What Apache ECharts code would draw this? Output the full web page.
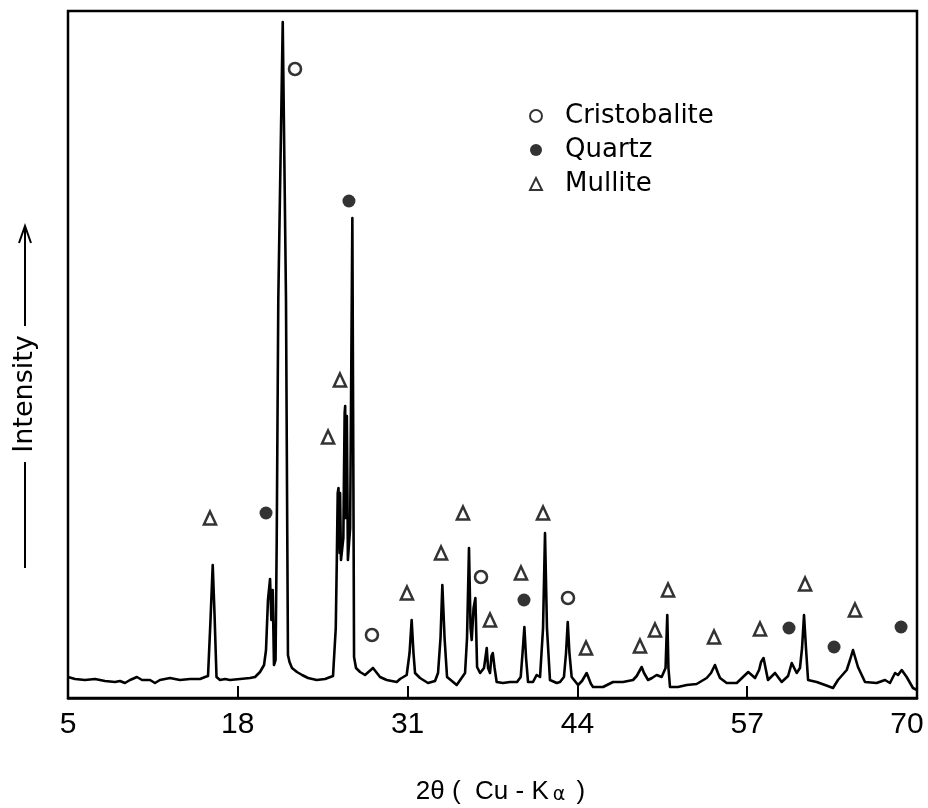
<!DOCTYPE html>
<html>
<head>
<meta charset="utf-8">
<script src="https://cdn.jsdelivr.net/npm/echarts@6/dist/echarts.min.js"></script>
<style>
html,body{margin:0;padding:0;background:#fff;overflow:hidden;}
#chart{width:928px;height:808px;}
</style>
</head>
<body>
<div id="chart"></div>
<script>
// 2θ (degrees) of the traced diffraction profile
const twoTheta = [
  5.00, 5.54, 6.30, 7.07, 7.83, 8.60, 8.98, 9.36, 9.75, 10.28, 10.67, 11.28, 11.66, 12.04, 12.81, 13.57, 14.34, 15.11, 15.49, 15.72,
  15.91, 16.08, 16.22, 16.37, 16.64, 17.02, 17.40, 18.17, 18.93, 19.32, 19.70, 20.01, 20.16, 20.31, 20.47, 20.57, 20.67, 20.77,
  20.89, 20.98, 21.10, 21.44, 21.69, 21.79, 21.84, 21.96, 22.15, 22.53, 22.92, 23.38, 24.04, 24.68, 25.29,
  25.50, 25.58, 25.65, 25.71, 25.74, 25.77, 25.80, 25.83, 25.90, 26.08, 26.18, 26.22, 26.26, 26.29, 26.32, 26.35, 26.43, 26.60, 26.77, 26.84, 26.90, 27.05, 27.36,
  27.74, 28.35, 28.89, 29.40, 30.17, 30.42, 30.93, 31.15, 31.31, 31.45, 31.57, 31.95, 32.56, 33.10, 33.33, 33.52, 33.66, 33.83, 34.02,
  34.76, 35.40, 35.55, 35.70, 35.82, 35.91, 36.05, 36.19, 36.32, 36.55, 36.85, 37.06, 37.16, 37.31, 37.42, 37.52, 37.66, 37.82,
  38.30, 38.84, 39.38, 39.66, 39.80, 39.94, 40.07, 40.22, 40.60, 40.88, 41.14, 41.37, 41.52, 41.67, 41.90, 42.42, 42.67, 42.97,
  43.13, 43.26, 43.39, 43.56, 44.05, 44.35, 44.71, 45.04, 45.20, 45.96, 46.73, 47.49, 48.26, 48.54, 48.92, 49.10, 49.41, 49.71,
  50.07, 50.45, 50.75, 50.88, 50.97, 51.09, 51.70, 52.37, 53.13, 53.90, 54.23, 54.53, 54.76, 54.92, 55.43, 56.20, 56.60, 57.08,
  57.60, 57.91, 58.06, 58.25, 58.59, 59.13, 59.64, 60.13, 60.41, 60.79, 61.04, 61.20, 61.35, 61.50, 61.66, 62.32, 62.96, 63.57,
  63.95, 64.62, 64.87, 65.10, 65.48, 66.02, 66.91, 67.55, 67.93, 68.32, 68.55, 68.83, 69.21, 69.69, 70.00
];
// intensity (arbitrary units)
const intensity = [
  21, 19, 18, 19, 17, 16, 17, 15, 18, 21, 18, 18, 15, 18, 20, 18, 19, 19, 21, 22,
  78, 133, 83, 21, 18, 19, 18, 19, 20, 21, 26, 33, 48, 98, 119, 78, 108, 33,
  38, 158, 398, 676, 398, 158, 43, 36, 30, 26, 23, 20, 18, 19, 22,
  70, 138, 205, 210, 150, 205, 145, 205, 138, 160, 285, 292, 180, 282, 180, 282, 138, 170, 480, 250, 41, 30, 26,
  23, 30, 21, 18, 16, 19, 23, 45, 78, 45, 25, 20, 15, 17, 25, 60, 113, 60, 21,
  13, 25, 60, 150, 70, 58, 90, 100, 31, 25, 30, 50, 30, 25, 42, 45, 30, 16,
  15, 16, 16, 21, 45, 71, 40, 16, 16, 23, 21, 70, 165, 70, 18, 15, 16, 21,
  45, 76, 45, 21, 13, 17, 25, 14, 11, 11, 16, 16, 18, 22, 31, 25, 18, 20,
  23, 21, 30, 83, 30, 11, 11, 13, 14, 20, 25, 33, 25, 20, 15, 15, 20, 26,
  20, 28, 36, 40, 18, 25, 16, 22, 35, 25, 30, 50, 83, 50, 18, 16, 13, 10,
  18, 28, 38, 48, 31, 16, 15, 18, 15, 25, 23, 28, 21, 10, 8
];
// phase markers: 2θ and label height
const cristobaliteX = [22.38, 28.27, 36.62, 43.28];
const cristobaliteY = [629, 63, 121, 100];
const quartzX = [20.16, 26.51, 39.91, 60.20, 63.65, 68.78];
const quartzY = [185, 497, 98, 70, 51, 71];
const mulliteX = [15.87, 24.91, 25.82, 30.95, 33.56, 35.24, 37.31, 39.68, 41.37, 44.66, 48.79, 49.94, 50.94, 54.46, 57.98, 61.43, 65.25];
const mulliteY = [180, 261, 318, 105, 145, 185, 78, 125, 185, 50, 52, 68, 108, 61, 69, 114, 88];
const xTicks = [5, 18, 31, 44, 57, 70];

const zip = (a, b) => a.map((v, i) => [v, b[i]]);
const ink = '#000';
const chart = echarts.init(document.getElementById('chart'), null, {renderer: 'canvas'});
chart.setOption({
  animation: false,
  backgroundColor: '#fff',
  grid: {left: 68, right: 11, top: 11, bottom: 110, show: true, borderColor: ink, borderWidth: 2.5,
         backgroundColor: 'transparent', containLabel: false, outerBoundsMode: 'none'},
  legend: {
    orient: 'vertical', left: 524, top: 96, itemWidth: 12, itemHeight: 12, itemGap: 4,
    data: ['Cristobalite', 'Quartz', 'Mullite'],
    textStyle: {fontFamily: 'DejaVu Sans', fontSize: 26, color: ink, padding: [0, 0, 0, 18], lineHeight: 30}
  },
  xAxis: {
    type: 'value', min: xTicks[0], max: xTicks[xTicks.length - 1], interval: 13,
    axisLine: {show: true, lineStyle: {color: ink, width: 2.5}},
    axisTick: {show: true, inside: true, length: 12, lineStyle: {color: ink, width: 2}},
    axisLabel: {
      fontFamily: 'Liberation Sans', fontSize: 30, color: ink, margin: 12,
      formatter: v => v === xTicks[xTicks.length - 1] ? '{e|' + v + '}' : '' + v,
      rich: {e: {fontFamily: 'Liberation Sans', fontSize: 30, color: ink, padding: [0, 20, 0, 0]}}
    },
    splitLine: {show: false},
    name: '{a|2θ (  Cu - K}{b|α}{a| )}', nameLocation: 'middle', nameGap: 80,
    nameTextStyle: {padding: [0, 0, 0, 16], rich: {
      a: {fontFamily: 'Liberation Sans', fontSize: 26, color: ink},
      b: {fontFamily: 'DejaVu Sans', fontSize: 19, color: ink, padding: [8, 4, 0, 4]}
    }}
  },
  yAxis: {type: 'value', min: 0, max: 687, show: false, splitLine: {show: false}},
  graphic: [
    {type: 'line', shape: {x1: 25, y1: 568, x2: 25, y2: 462}, style: {stroke: ink, lineWidth: 2}},
    {type: 'line', shape: {x1: 25, y1: 326, x2: 25, y2: 227}, style: {stroke: ink, lineWidth: 2}},
    {type: 'polyline', shape: {points: [[19, 243], [25, 226], [31, 243]]}, style: {stroke: ink, lineWidth: 2, fill: null}},
    {type: 'text', x: 25, y: 394, rotation: Math.PI / 2,
     style: {text: 'Intensity', font: '27px "DejaVu Sans"', fill: ink, align: 'center', verticalAlign: 'middle'}}
  ],
  series: [
    {type: 'line', name: 'profile', data: zip(twoTheta, intensity), showSymbol: false, symbol: 'none',
     lineStyle: {color: ink, width: 2.6, join: 'round'}, z: 2},
    {type: 'scatter', name: 'Cristobalite', data: zip(cristobaliteX, cristobaliteY), symbol: 'circle', symbolSize: 12,
     itemStyle: {color: '#fff', borderColor: ink, borderWidth: 2.6}, z: 3},
    {type: 'scatter', name: 'Quartz', data: zip(quartzX, quartzY), symbol: 'circle', symbolSize: 13,
     itemStyle: {color: ink, borderColor: ink, borderWidth: 0}, z: 3},
    {type: 'scatter', name: 'Mullite', data: zip(mulliteX, mulliteY), symbol: 'triangle', symbolSize: [12, 13],
     itemStyle: {color: '#fff', borderColor: ink, borderWidth: 2.6}, z: 3}
  ]
});
</script>
</body>
</html>
